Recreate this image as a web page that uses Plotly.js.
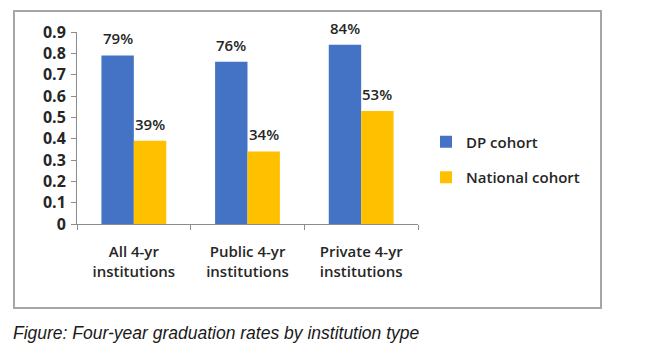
<!DOCTYPE html>
<html>
<head>
<meta charset="utf-8">
<script src="https://cdn.plot.ly/plotly-3.0.1.min.js"></script>
<style>html,body{margin:0;padding:0;background:#fff;}#chart{width:650px;height:355px;}</style>
</head>
<body>
<div id="chart"></div>
<script>
// ---- data ----
const categories = ["All 4-yr<br>institutions", "Public 4-yr<br>institutions", "Private 4-yr<br>institutions"];
const dpCohort = [0.79, 0.76, 0.84];
const nationalCohort = [0.39, 0.34, 0.53];
const dpLabels = ["79%", "76%", "84%"];
const nationalLabels = ["39%", "34%", "53%"];
const seriesNames = ["DP cohort", "National cohort"];
const yTicks = [0, 0.1, 0.2, 0.3, 0.4, 0.5, 0.6, 0.7, 0.8, 0.9];
const captionText = "Figure: Four-year graduation rates by institution type";

// ---- layout constants ----
const W = 650, H = 355;
const M = {l: 77, r: 232, t: 32, b: 131};
const PW = W - M.l - M.r, PH = H - M.t - M.b;
const BARGAP = 0.43;
const FONT = "'Open Sans', Lato, sans-serif";
const TXT = "#262626";
const px2x = p => (p - M.l) / PW;
const px2y = p => (H - M.b - p) / PH;

const barW = (PW / categories.length) * (1 - BARGAP) / 2;

const traces = [
  {type: "bar", name: seriesNames[0], x: categories, y: dpCohort,
   marker: {color: "#4472C4"}, legendgroup: "a", hoverinfo: "none"},
  {type: "bar", name: seriesNames[1], x: categories, y: nationalCohort,
   marker: {color: "#FFC000"}, legendgroup: "b", hoverinfo: "none"}
];

const annotations = [];
categories.forEach((c, i) => {
  annotations.push({x: c, y: dpCohort[i], xref: "x", yref: "y", text: dpLabels[i],
    showarrow: false, xshift: -barW / 2, yshift: 5, yanchor: "bottom",
    font: {family: FONT, size: 15, color: TXT, weight: 600}});
  annotations.push({x: c, y: nationalCohort[i], xref: "x", yref: "y", text: nationalLabels[i],
    showarrow: false, xshift: barW / 2, yshift: 5, yanchor: "bottom",
    font: {family: FONT, size: 15, color: TXT, weight: 600}});
});
annotations.push({x: px2x(11), y: px2y(333), xref: "paper", yref: "paper",
  text: captionText, showarrow: false, xanchor: "left", yanchor: "middle",
  font: {family: "'Liberation Sans Narrow', 'Arial Narrow', 'Liberation Sans', sans-serif", size: 17.5, color: "#1a1a1a", style: "italic"}});

const layout = {
  width: W, height: H,
  margin: M,
  paper_bgcolor: "#fff", plot_bgcolor: "#fff",
  barmode: "group", bargap: BARGAP, bargroupgap: 0,
  showlegend: true,
  legend: {x: px2x(426), y: px2y(159.5), xanchor: "left", yanchor: "middle",
    font: {family: FONT, size: 15, color: TXT, weight: 600}, tracegroupgap: 13,
    bgcolor: "rgba(0,0,0,0)"},
  xaxis: {type: "category", showline: true, linecolor: "#8c8c8c", linewidth: 1,
    ticks: "outside", tickson: "boundaries", ticklen: 5, tickcolor: "#8c8c8c",
    showgrid: false, zeroline: false, ticklabelstandoff: 14,
    tickfont: {family: FONT, size: 15, color: TXT, weight: 600}},
  yaxis: {range: [0, 0.9], tickvals: yTicks, showline: true, linecolor: "#8c8c8c",
    linewidth: 1, ticks: "outside", ticklen: 5, tickcolor: "#8c8c8c",
    showgrid: false, zeroline: false, ticklabelstandoff: 2,
    tickfont: {family: FONT, size: 16, color: TXT, weight: 700}},
  annotations: annotations,
  shapes: [{type: "rect", xref: "paper", yref: "paper",
    x0: px2x(14), x1: px2x(601), y0: px2y(308), y1: px2y(11),
    line: {color: "#a6a6a6", width: 2}, fillcolor: "rgba(0,0,0,0)", layer: "below"}]
};

Plotly.newPlot("chart", traces, layout, {staticPlot: true, displayModeBar: false});
</script>
</body>
</html>
